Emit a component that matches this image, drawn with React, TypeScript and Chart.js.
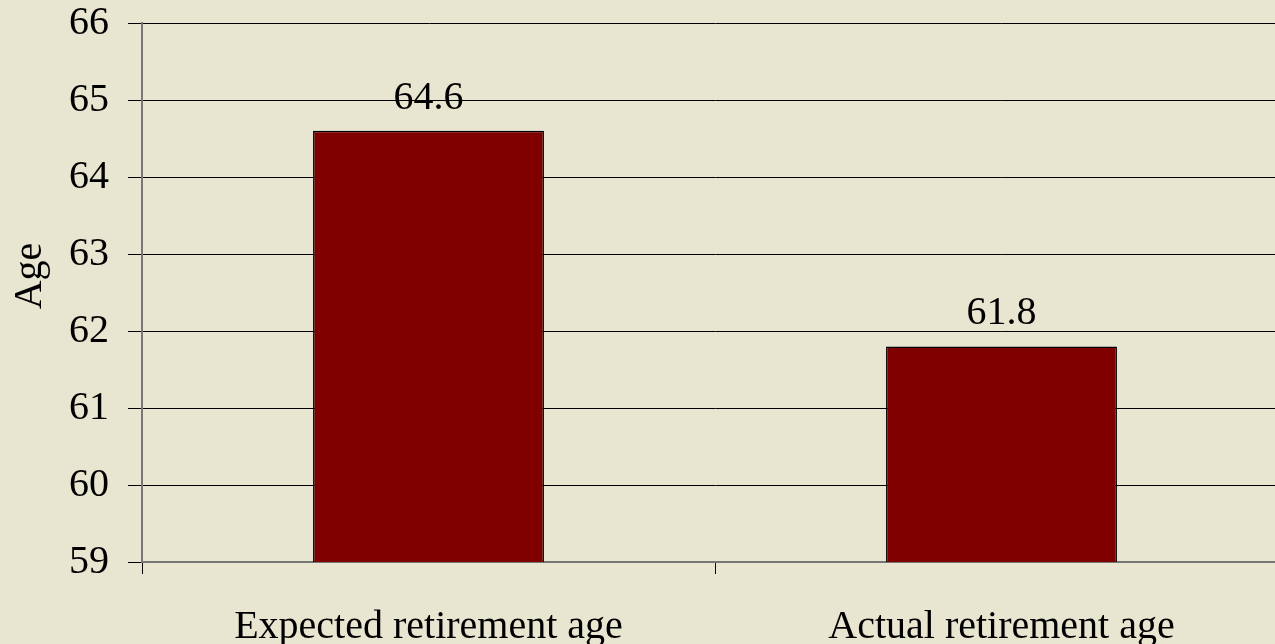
import React, { useEffect, useRef } from "react";
import { Chart, registerables } from "chart.js";

Chart.register(...registerables);

const categories = ["Expected retirement age", "Actual retirement age"];
const ages = [64.6, 61.8];
const yMin = 59;
const yMax = 66;
const yTitle = "Age";

const BG = "#E8E6D0";
const FONT = "'Liberation Serif', 'Times New Roman', serif";

const labelPlugin = {
  id: "barLabels",
  afterDatasetsDraw(chart: any) {
    const ctx = chart.ctx;
    const meta = chart.getDatasetMeta(0);
    ctx.save();
    ctx.fillStyle = "#000";
    ctx.font = `40px ${FONT}`;
    ctx.textAlign = "center";
    ctx.textBaseline = "alphabetic";
    meta.data.forEach((el: any, i: number) => {
      ctx.fillText(ages[i].toFixed(1), el.x, el.y - 22);
    });
    // y axis title
    ctx.translate(30, 276);
    ctx.rotate(-Math.PI / 2);
    ctx.textBaseline = "middle";
    ctx.fillText(yTitle, 0, 0);
    ctx.restore();
  },
};

const bgPlugin = {
  id: "bg",
  beforeDraw(chart: any) {
    const ctx = chart.ctx;
    ctx.save();
    ctx.fillStyle = BG;
    ctx.fillRect(0, 0, chart.width, chart.height);
    ctx.restore();
  },
};

export default function App() {
  const ref = useRef<HTMLCanvasElement>(null);
  useEffect(() => {
    document.body.style.margin = "0";
    document.body.style.background = BG;
    const chart = new Chart(ref.current!, {
      type: "bar",
      data: {
        labels: categories,
        datasets: [
          {
            data: ages,
            backgroundColor: "#800000",
            borderColor: "#000000",
            borderWidth: 1.5,
            borderSkipped: false,
            barPercentage: 0.403,
            categoryPercentage: 1,
          },
        ],
      },
      options: {
        responsive: false,
        animation: false,
        layout: { padding: { top: 23, left: 0, right: 0, bottom: 0 } },
        plugins: { legend: { display: false }, tooltip: { enabled: false } },
        scales: {
          x: {
            grid: {
              drawOnChartArea: false,
              drawTicks: true,
              tickLength: 12,
              color: "#000",
              offset: true,
            },
            border: { color: "#777", width: 2 },
            ticks: {
              color: "#000",
              font: { family: FONT, size: 40 },
              padding: 29,
              maxRotation: 0,
            },
            afterFit(scale: any) {
              scale.height = 82;
            },
          },
          y: {
            min: yMin,
            max: yMax,
            grid: { color: "#000", tickLength: 14, lineWidth: 1 },
            border: { color: "#777", width: 2 },
            ticks: {
              stepSize: 1,
              color: "#000",
              font: { family: FONT, size: 40, lineHeight: 0.05 },
              padding: 19,
            },
            afterFit(scale: any) {
              scale.width = 142;
            },
          },
        },
      },
      plugins: [bgPlugin, labelPlugin],
    });
    return () => chart.destroy();
  }, []);
  return (
    <div
      style={{
        position: "fixed",
        left: 0,
        top: 0,
        width: 1275,
        height: 644,
        overflow: "hidden",
        background: BG,
      }}
    >
      <canvas ref={ref} width={1288} height={644} style={{ display: "block" }} />
    </div>
  );
}
